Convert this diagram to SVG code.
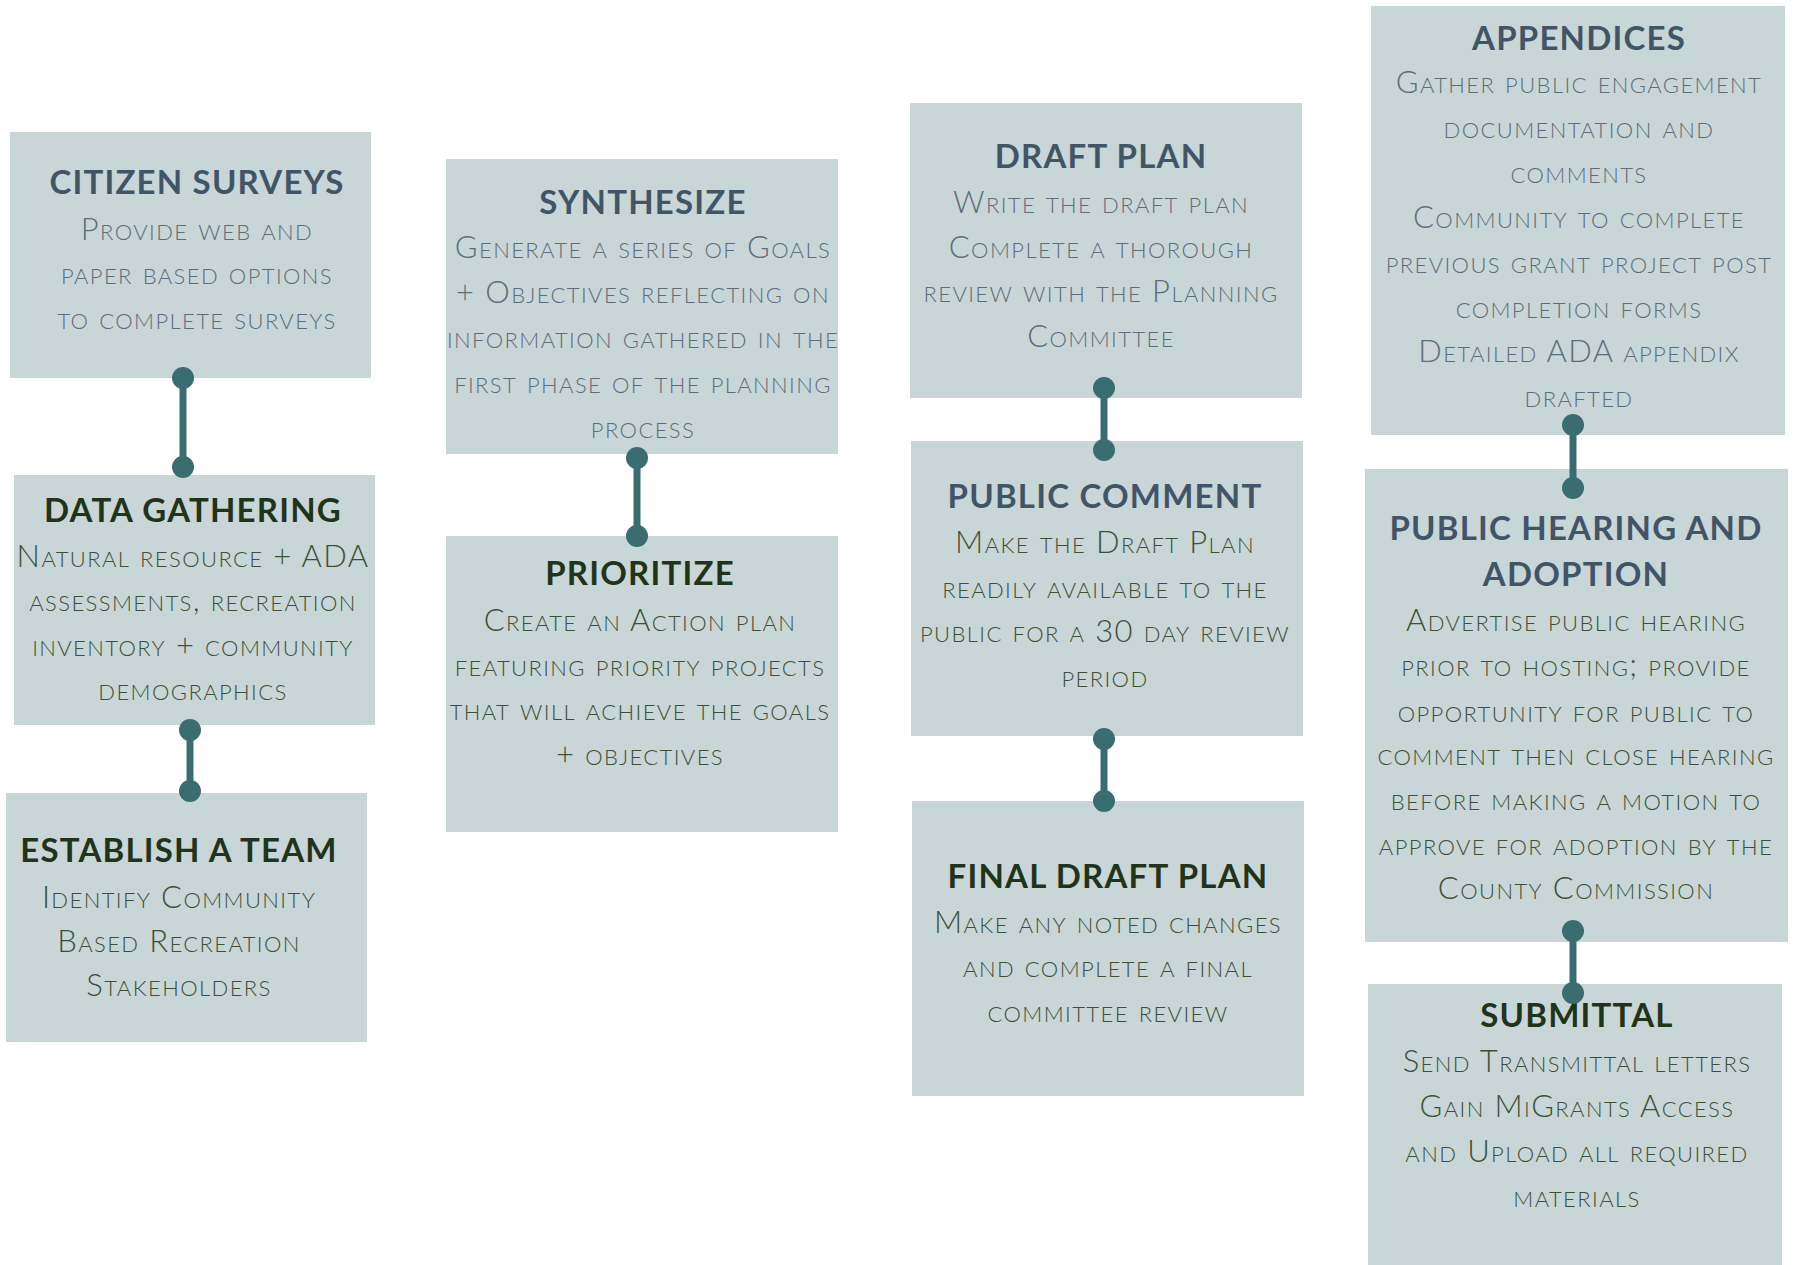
<svg xmlns="http://www.w3.org/2000/svg" width="1794" height="1265" viewBox="0 0 1794 1265">
<defs>
<style>
.box{fill:#c8d6d8}
.t{font-family:Lato,"Liberation Sans",sans-serif;font-weight:700;font-size:33px;text-anchor:middle;letter-spacing:1.2px}
.d{font-family:Lato,"Liberation Sans",sans-serif;font-weight:300;font-size:31px;font-variant:small-caps;text-anchor:middle;letter-spacing:1.4px}
.ts{fill:#415566}
.tg{fill:#1f3419}
.ds{fill:#5d6d79}
.dg{fill:#3c5135}
.conn{stroke:#3a6d70;stroke-width:7;fill:none;marker-start:url(#dot);marker-end:url(#dot)}
</style>
<marker id="dot" viewBox="-12 -12 24 24" markerWidth="24" markerHeight="24" markerUnits="userSpaceOnUse" refX="0" refY="0">
<circle r="11" fill="#3a6d70"/>
</marker>
</defs>
<rect width="1794" height="1265" fill="#ffffff"/>

<g id="citizen-surveys">
<rect class="box" x="10" y="132" width="361" height="246"/>
<text class="t ts" x="197" y="194">CITIZEN SURVEYS</text>
<text class="d ds" x="197" y="240">Provide web and</text>
<text class="d ds" x="197" y="284">paper based options</text>
<text class="d ds" x="197" y="329">to complete surveys</text>
</g>

<g id="data-gathering">
<rect class="box" x="14" y="475" width="361" height="250"/>
<text class="t tg" x="193" y="522">DATA GATHERING</text>
<text class="d dg" x="193" y="567">Natural resource + ADA</text>
<text class="d dg" x="193" y="611">assessments, recreation</text>
<text class="d dg" x="193" y="656">inventory + community</text>
<text class="d dg" x="193" y="700">demographics</text>
</g>

<g id="establish-a-team">
<rect class="box" x="6" y="793" width="361" height="249"/>
<text class="t tg" x="179" y="862">ESTABLISH A TEAM</text>
<text class="d dg" x="179" y="908">Identify Community</text>
<text class="d dg" x="179" y="952">Based Recreation</text>
<text class="d dg" x="179" y="996">Stakeholders</text>
</g>

<g id="synthesize">
<rect class="box" x="446" y="159" width="392" height="295"/>
<text class="t ts" x="643" y="214">SYNTHESIZE</text>
<text class="d ds" x="643" y="258">Generate a series of Goals</text>
<text class="d ds" x="643" y="303">+ Objectives reflecting on</text>
<text class="d ds" x="643" y="348">information gathered in the</text>
<text class="d ds" x="643" y="393">first phase of the planning</text>
<text class="d ds" x="643" y="438">process</text>
</g>

<g id="prioritize">
<rect class="box" x="446" y="536" width="392" height="296"/>
<text class="t tg" x="640" y="585">PRIORITIZE</text>
<text class="d dg" x="640" y="631">Create an Action plan</text>
<text class="d dg" x="640" y="676">featuring priority projects</text>
<text class="d dg" x="640" y="720">that will achieve the goals</text>
<text class="d dg" x="640" y="765">+ objectives</text>
</g>

<g id="draft-plan">
<rect class="box" x="910" y="103" width="392" height="295"/>
<text class="t ts" x="1101" y="168">DRAFT PLAN</text>
<text class="d ds" x="1101" y="213">Write the draft plan</text>
<text class="d ds" x="1101" y="258">Complete a thorough</text>
<text class="d ds" x="1101" y="302">review with the Planning</text>
<text class="d ds" x="1101" y="347">Committee</text>
</g>

<g id="public-comment">
<rect class="box" x="911" y="441" width="392" height="295"/>
<text class="t ts" x="1105" y="508">PUBLIC COMMENT</text>
<text class="d dg" x="1105" y="553">Make the Draft Plan</text>
<text class="d dg" x="1105" y="598">readily available to the</text>
<text class="d dg" x="1105" y="642">public for a 30 day review</text>
<text class="d dg" x="1105" y="687">period</text>
</g>

<g id="final-draft-plan">
<rect class="box" x="912" y="801" width="392" height="295"/>
<text class="t tg" x="1108" y="888">FINAL DRAFT PLAN</text>
<text class="d dg" x="1108" y="933">Make any noted changes</text>
<text class="d dg" x="1108" y="977">and complete a final</text>
<text class="d dg" x="1108" y="1022">committee review</text>
</g>

<g id="appendices">
<rect class="box" x="1371" y="6" width="414" height="429"/>
<text class="t ts" x="1579" y="50">APPENDICES</text>
<text class="d ds" x="1579" y="93">Gather public engagement</text>
<text class="d ds" x="1579" y="138">documentation and</text>
<text class="d ds" x="1579" y="183">comments</text>
<text class="d ds" x="1579" y="228">Community to complete</text>
<text class="d ds" x="1579" y="273">previous grant project post</text>
<text class="d ds" x="1579" y="318">completion forms</text>
<text class="d ds" x="1579" y="362">Detailed ADA appendix</text>
<text class="d ds" x="1579" y="407">drafted</text>
</g>

<g id="public-hearing-and-adoption">
<rect class="box" x="1365" y="469" width="423" height="473"/>
<text class="t ts" x="1576" y="540">PUBLIC HEARING AND</text>
<text class="t ts" x="1576" y="586">ADOPTION</text>
<text class="d dg" x="1576" y="631">Advertise public hearing</text>
<text class="d dg" x="1576" y="676">prior to hosting; provide</text>
<text class="d dg" x="1576" y="722">opportunity for public to</text>
<text class="d dg" x="1576" y="765">comment then close hearing</text>
<text class="d dg" x="1576" y="810">before making a motion to</text>
<text class="d dg" x="1576" y="855">approve for adoption by the</text>
<text class="d dg" x="1576" y="899">County Commission</text>
</g>

<g id="submittal">
<rect class="box" x="1368" y="984" width="414" height="281"/>
<text class="t tg" x="1577" y="1027">SUBMITTAL</text>
<text class="d dg" x="1577" y="1072">Send Transmittal letters</text>
<text class="d dg" x="1577" y="1117">Gain MiGrants Access</text>
<text class="d dg" x="1577" y="1162">and Upload all required</text>
<text class="d dg" x="1577" y="1207">materials</text>
</g>

<g id="connectors">
<path class="conn" d="M183 378 V467"/>
<path class="conn" d="M190 730 V791"/>
<path class="conn" d="M637 458 V536"/>
<path class="conn" d="M1104 388 V450"/>
<path class="conn" d="M1104 739 V801"/>
<path class="conn" d="M1573 425 V488"/>
<path class="conn" d="M1573 931 V993"/>
</g>
</svg>
